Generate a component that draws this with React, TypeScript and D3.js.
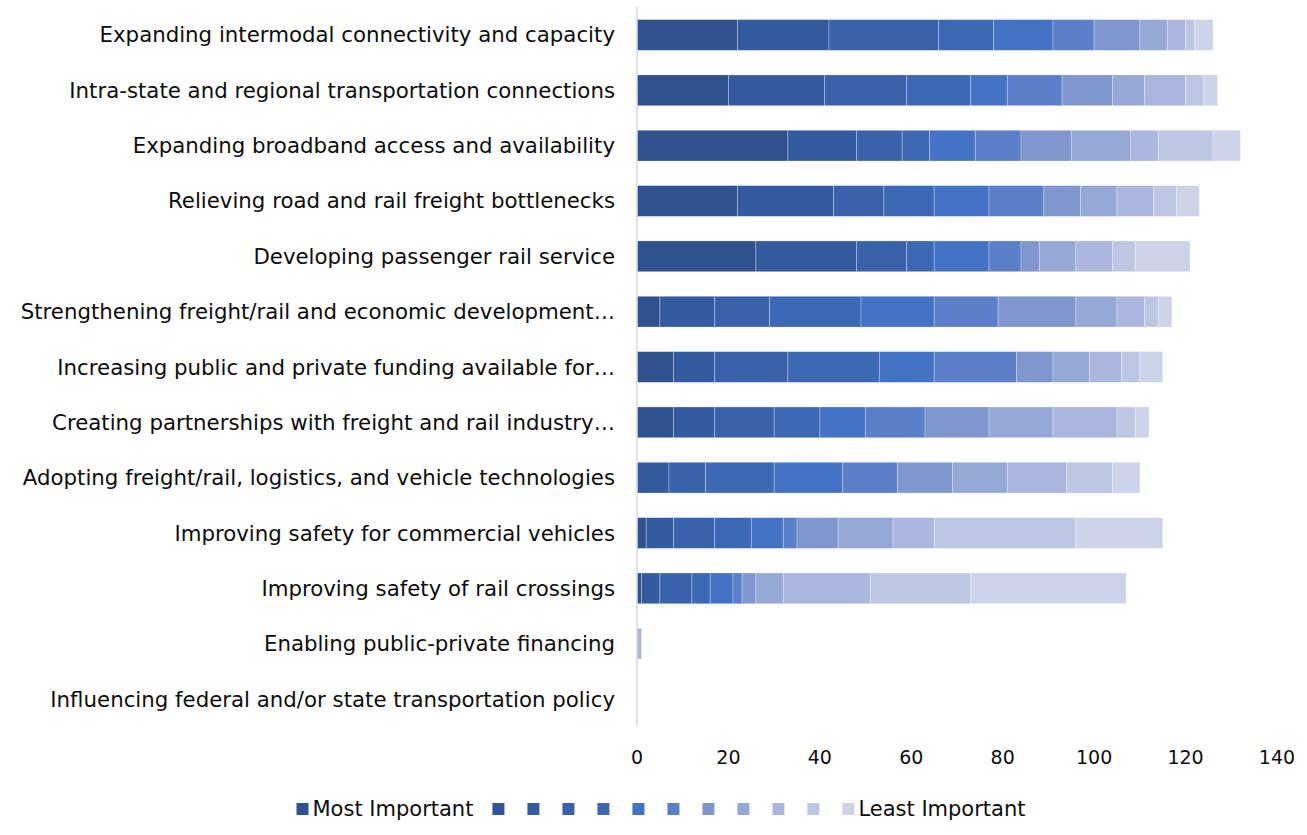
import React, { useMemo } from "react";
import * as d3 from "d3";

const categories = [
  "Expanding intermodal connectivity and capacity",
  "Intra-state and regional transportation connections",
  "Expanding broadband access and availability",
  "Relieving road and rail freight bottlenecks",
  "Developing passenger rail service",
  "Strengthening freight/rail and economic development…",
  "Increasing public and private funding available for…",
  "Creating partnerships with freight and rail industry…",
  "Adopting freight/rail, logistics, and vehicle technologies",
  "Improving safety for commercial vehicles",
  "Improving safety of rail crossings",
  "Enabling public-private financing",
  "Influencing federal and/or state transportation policy",
];

const seriesNames = [
  "Most Important", "", "", "", "", "", "", "", "", "", "", "Least Important",
];

const seriesColors = [
  "#2F528F", "#2F5597", "#345BA0", "#3962AB", "#3D68B3", "#4472C4",
  "#5B7FC8", "#7F96CF", "#96A8D6", "#AAB6DD", "#BDC6E3", "#CDD3E9",
];

const rank1 = [22, 20, 33, 22, 26, 5, 8, 8, 0, 2, 1, 0, 0];
const rank2 = [0, 0, 0, 0, 0, 0, 0, 0, 0, 0, 0, 0, 0];
const rank3 = [20, 21, 15, 21, 22, 12, 9, 9, 7, 6, 4, 0, 0];
const rank4 = [24, 18, 10, 11, 11, 12, 16, 13, 8, 9, 7, 0, 0];
const rank5 = [12, 14, 6, 11, 6, 20, 20, 10, 15, 8, 4, 0, 0];
const rank6 = [13, 8, 10, 12, 12, 16, 12, 10, 15, 7, 5, 0, 0];
const rank7 = [9, 12, 10, 12, 7, 14, 18, 13, 12, 3, 2, 0, 0];
const rank8 = [10, 11, 11, 8, 4, 17, 8, 14, 12, 9, 3, 0, 0];
const rank9 = [6, 7, 13, 8, 8, 9, 8, 14, 12, 12, 6, 0, 0];
const rank10 = [4, 9, 6, 8, 8, 6, 7, 14, 13, 9, 19, 1, 0];
const rank11 = [2, 4, 12, 5, 5, 3, 4, 4, 10, 31, 22, 0, 0];
const rank12 = [4, 3, 6, 5, 12, 3, 5, 3, 6, 19, 34, 0, 0];

const seriesValues = [rank1, rank2, rank3, rank4, rank5, rank6, rank7, rank8, rank9, rank10, rank11, rank12];

const xTicks = [0, 20, 40, 60, 80, 100, 120, 140];

const FONT = "'DejaVu Sans', Verdana, sans-serif";
const FS_LABEL = 21.3;
const FS_TICK = 19;
const FS_LEGEND = 21;

function measure(text: string, font: string): number {
  if (typeof document === "undefined") return text.length * 11;
  const ctx = document.createElement("canvas").getContext("2d");
  if (!ctx) return text.length * 11;
  ctx.font = font;
  return ctx.measureText(text).width;
}

export default function App() {
  const W = 1307;
  const H = 835;
  const x = d3.scaleLinear().domain([0, 140]).range([637, 1277]);
  const y = d3
    .scaleBand<string>()
    .domain(categories)
    .range([7.3, 726.7])
    .paddingInner(0.444)
    .paddingOuter(0.222);

  const table = categories.map((c, i) => {
    const row: any = { cat: c };
    seriesValues.forEach((s, k) => (row["s" + k] = s[i]));
    return row;
  });
  const keys = seriesValues.map((_, k) => "s" + k);
  const stacked = d3.stack<any>().keys(keys)(table);

  const legend = useMemo(() => {
    const font = `${FS_LEGEND}px 'DejaVu Sans'`;
    const items: { x: number; color: string; name: string }[] = [];
    let cur = 0;
    const widths = seriesNames.map((n) => (n ? 12 + 4 + measure(n, font) + 19 : 35));
    const total = widths.reduce((a, b) => a + b, 0) - 19;
    const start = 661 - total / 2;
    seriesNames.forEach((n, k) => {
      items.push({ x: start + cur, color: seriesColors[k], name: n });
      cur += widths[k];
    });
    return items;
  }, []);

  return (
    <div style={{ position: "fixed", left: 0, top: 0 }}>
      <svg width={W} height={H} style={{ display: "block", background: "#fff" }}>
        {stacked.map((layer, k) => (
          <g key={k} fill={seriesColors[k]}>
            {layer.map((d, i) =>
              d[1] - d[0] > 0 ? (
                <rect
                  key={i}
                  x={x(d[0])}
                  y={y(categories[i])}
                  width={x(d[1]) - x(d[0])}
                  height={y.bandwidth()}
                  stroke="#ffffff"
                  strokeOpacity={0.35}
                  strokeWidth={0.8}
                />
              ) : null
            )}
          </g>
        ))}
        <line x1={x(0)} x2={x(0)} y1={7} y2={727} stroke="#D9D9D9" strokeWidth={1.5} />
        {categories.map((c) => (
          <text
            key={c}
            x={615}
            y={(y(c) as number) + y.bandwidth() / 2}
            textAnchor="end"
            dominantBaseline="central"
            fontFamily={FONT}
            fontSize={FS_LABEL}
            fill="#0D0D0D"
          >
            {c}
          </text>
        ))}
        {xTicks.map((t) => (
          <text
            key={t}
            x={x(t)}
            y={757}
            textAnchor="middle"
            dominantBaseline="central"
            fontFamily={FONT}
            fontSize={FS_TICK}
            fill="#0D0D0D"
          >
            {t}
          </text>
        ))}
        {legend.map((it, k) => (
          <g key={k}>
            <rect x={it.x} y={803} width={12} height={12} fill={it.color} />
            {it.name ? (
              <text
                x={it.x + 16}
                y={809}
                dominantBaseline="central"
                fontFamily={FONT}
                fontSize={FS_LEGEND}
                fill="#0D0D0D"
              >
                {it.name}
              </text>
            ) : null}
          </g>
        ))}
      </svg>
    </div>
  );
}
